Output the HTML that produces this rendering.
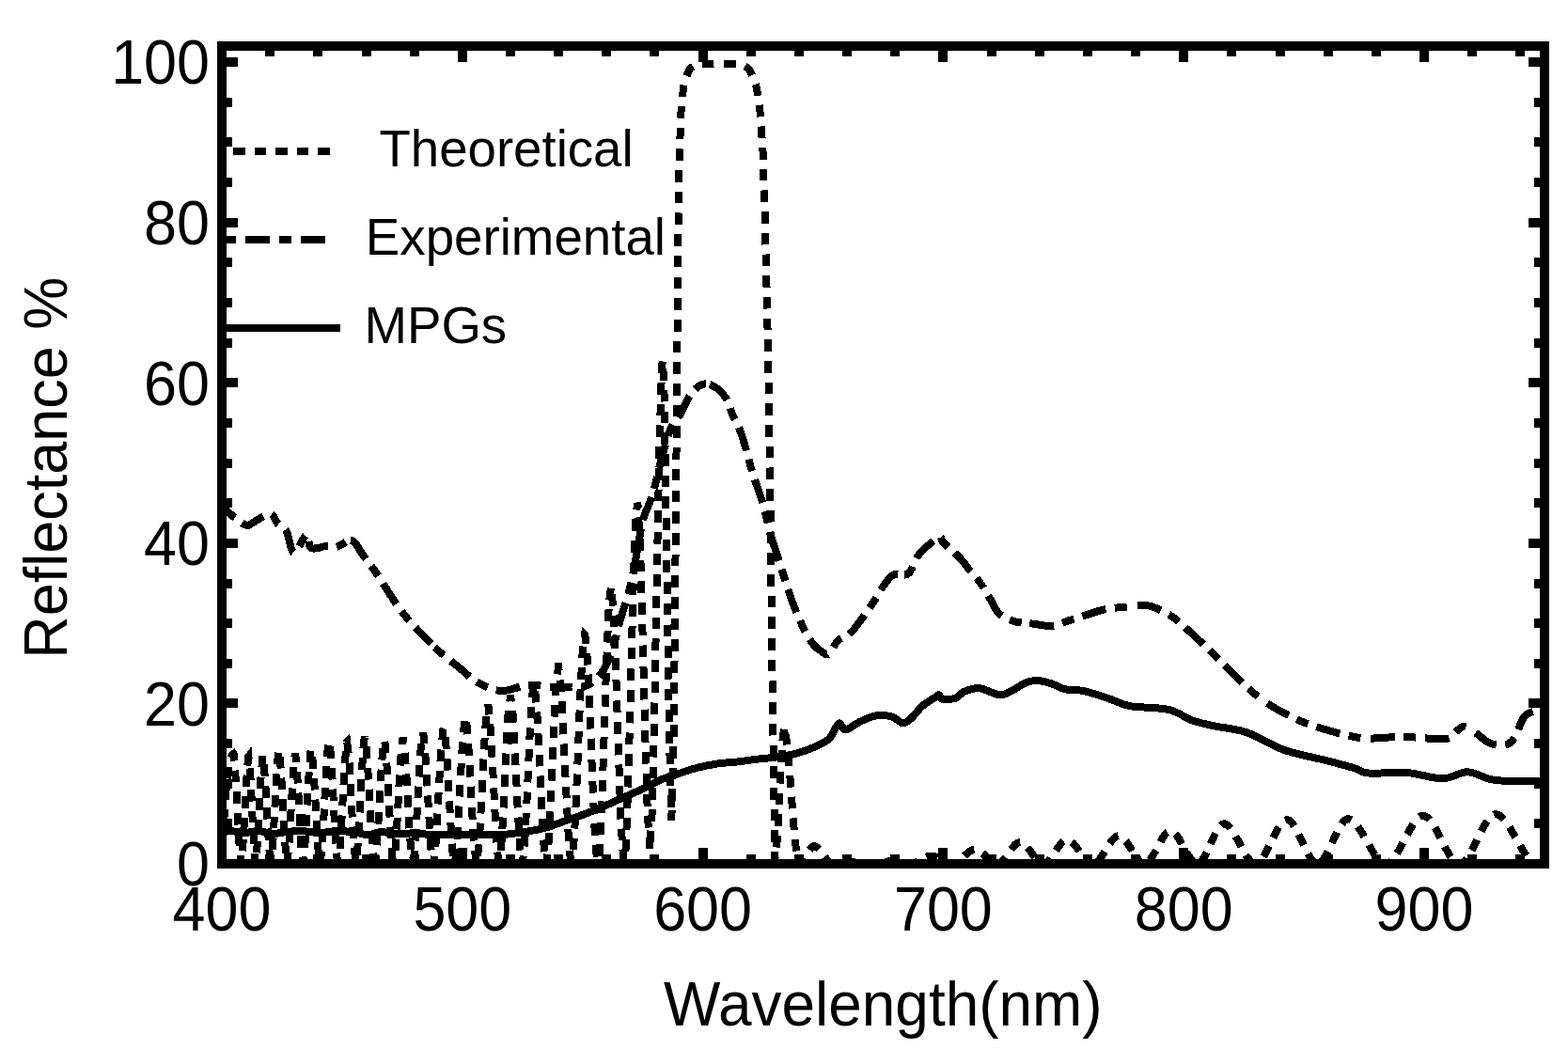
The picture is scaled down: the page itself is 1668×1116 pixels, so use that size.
<!DOCTYPE html>
<html><head><meta charset="utf-8"><title>Reflectance</title>
<style>html,body{margin:0;padding:0;background:#fff;}svg{display:block;}</style></head>
<body>
<svg shape-rendering="crispEdges" width="1668" height="1116" viewBox="0 0 1668 1116" font-family="'Liberation Sans', Arial, sans-serif">
<rect x="0" y="0" width="1668" height="1116" fill="#fff"/>
<defs><clipPath id="pc"><rect x="236" y="49" width="1407" height="870"/></clipPath></defs>
<g clip-path="url(#pc)" fill="none" stroke="#000" stroke-width="8" stroke-linejoin="round">
<path stroke-width="8" d="M232.0,884.0 C234.2,884.0 240.3,883.7 245.0,884.0 C249.7,884.3 255.0,886.0 260.0,886.0 C265.0,886.0 270.0,883.8 275.0,884.0 C280.0,884.2 285.0,886.8 290.0,887.0 C295.0,887.2 300.0,885.5 305.0,885.0 C310.0,884.5 314.2,883.8 320.0,884.0 C325.8,884.2 333.3,886.0 340.0,886.0 C346.7,886.0 353.3,884.0 360.0,884.0 C366.7,884.0 374.7,885.2 380.0,886.0 C385.3,886.8 387.8,888.7 392.0,888.5 C396.2,888.3 400.3,885.2 405.0,885.0 C409.7,884.8 414.2,886.8 420.0,887.0 C425.8,887.2 433.3,886.3 440.0,886.5 C446.7,886.7 451.7,887.8 460.0,888.0 C468.3,888.2 481.3,887.5 490.0,887.5 C498.7,887.5 504.5,887.9 512.0,888.0 C519.5,888.1 527.0,888.5 535.0,888.0 C543.0,887.5 552.4,885.9 560.0,884.7 C567.6,883.5 573.6,882.5 580.4,880.6 C587.2,878.7 594.0,875.9 600.8,873.5 C607.6,871.1 614.4,868.9 621.2,866.4 C628.0,863.9 634.7,861.1 641.5,858.2 C648.3,855.3 655.1,852.0 661.9,849.0 C668.7,846.0 675.5,843.1 682.3,839.9 C689.1,836.7 695.9,832.6 702.7,829.7 C709.5,826.8 716.2,824.8 723.0,822.6 C729.8,820.4 736.6,818.1 743.4,816.4 C750.2,814.7 757.0,813.4 763.8,812.4 C770.6,811.4 777.4,811.3 784.2,810.5 C791.0,809.7 797.8,808.6 804.6,807.8 C811.4,807.0 818.2,806.5 825.0,805.6 C831.8,804.7 838.6,803.9 845.4,802.1 C852.2,800.3 859.6,797.7 865.7,795.0 C871.8,792.3 877.6,790.2 882.0,786.0 C886.4,781.8 889.3,771.2 892.2,769.6 C895.1,768.0 895.9,776.8 899.6,776.5 C903.3,776.2 909.2,770.4 914.6,767.9 C920.0,765.4 926.1,762.3 931.8,761.4 C937.5,760.5 944.1,761.2 948.9,762.5 C953.7,763.8 957.1,769.2 960.6,769.4 C964.1,769.6 966.4,766.7 969.9,763.6 C973.4,760.5 977.2,754.5 981.5,750.8 C985.8,747.1 992.6,743.4 995.5,741.5 C998.4,739.6 997.8,738.8 999.0,739.2 C1000.2,739.6 999.6,743.2 1002.5,743.8 C1005.4,744.4 1012.6,744.1 1016.5,742.7 C1020.4,741.4 1021.5,737.5 1025.8,735.7 C1030.1,734.0 1035.9,731.6 1042.1,732.2 C1048.3,732.8 1057.3,738.8 1063.1,739.2 C1068.9,739.6 1072.3,736.6 1077.0,734.5 C1081.7,732.4 1086.5,728.1 1091.0,726.4 C1095.5,724.6 1099.1,723.8 1103.8,724.0 C1108.5,724.2 1114.2,726.0 1119.0,727.5 C1123.8,729.0 1127.9,732.1 1132.9,733.3 C1137.9,734.5 1143.4,733.5 1149.2,734.5 C1155.0,735.5 1162.1,737.5 1167.9,739.2 C1173.7,741.0 1178.3,743.0 1184.2,745.0 C1190.1,747.0 1193.5,749.8 1203.3,751.4 C1213.1,753.0 1232.0,752.4 1242.9,754.9 C1253.8,757.4 1260.3,763.6 1268.5,766.5 C1276.7,769.4 1282.1,770.2 1291.8,772.4 C1301.5,774.5 1314.4,775.1 1326.8,779.4 C1339.2,783.7 1351.9,793.0 1366.3,798.0 C1380.7,803.0 1400.6,806.4 1412.9,809.6 C1425.2,812.8 1432.8,814.8 1440.0,817.0 C1447.2,819.2 1447.0,821.8 1456.4,822.6 C1465.9,823.4 1483.7,821.0 1496.7,822.0 C1509.7,823.0 1523.7,828.4 1534.4,828.3 C1545.1,828.2 1552.5,821.2 1560.9,821.3 C1569.3,821.4 1577.7,827.3 1584.8,828.9 C1591.9,830.5 1593.2,830.5 1603.7,830.8 C1614.2,831.1 1640.6,830.8 1648.0,830.8"/>
<polyline stroke-dasharray="26 9.5 13 9.5" stroke-dashoffset="27.56" points="232.0,540.5 232.7,540.7 233.7,541.0 234.9,541.3 236.2,541.7 237.6,542.1 239.0,542.6 240.3,543.1 241.4,543.7 242.4,544.3 243.3,545.0 244.1,545.8 244.9,546.6 245.8,547.4 246.7,548.3 247.7,549.2 248.9,550.1 250.3,551.1 251.9,552.3 253.6,553.6 255.4,554.9 257.2,556.2 258.9,557.3 260.5,558.1 261.8,558.7 262.9,559.0 263.8,559.0 264.5,558.9 265.2,558.6 265.8,558.2 266.5,557.7 267.3,557.1 268.3,556.6 269.4,556.0 270.7,555.2 272.0,554.3 273.4,553.4 274.9,552.5 276.3,551.6 277.7,550.8 279.0,550.1 280.3,549.5 281.6,548.8 282.9,548.1 284.1,547.5 285.3,547.0 286.5,546.7 287.7,546.7 288.7,546.9 289.6,547.5 290.5,548.4 291.2,549.6 291.9,551.0 292.6,552.5 293.3,554.0 294.2,555.4 295.1,556.6 296.2,557.6 297.3,558.5 298.6,559.3 299.9,560.1 301.2,561.0 302.4,562.1 303.7,563.5 304.8,565.2 305.8,567.7 306.7,570.9 307.6,574.5 308.4,578.3 309.3,581.9 310.2,584.9 311.3,587.1 312.5,588.0 314.0,587.4 315.7,585.4 317.5,582.5 319.4,579.0 321.3,575.5 323.1,572.4 324.7,570.1 326.0,569.0 327.0,569.3 327.6,570.6 328.0,572.5 328.3,574.9 328.7,577.5 329.1,579.9 329.9,581.8 331.0,583.0 332.6,583.5 334.5,583.5 336.7,583.3 339.0,582.8 341.4,582.2 343.6,581.6 345.7,581.2 347.5,581.0 349.0,581.0 350.3,581.2 351.5,581.5 352.5,581.8 353.5,582.1 354.4,582.3 355.4,582.4 356.4,582.4 357.4,582.2 358.4,581.9 359.3,581.5 360.3,581.0 361.2,580.5 362.1,580.0 363.1,579.5 364.0,579.0 364.9,578.5 365.9,577.9 366.9,577.2 367.8,576.6"/>
<polyline stroke-dasharray="26 9.5 13 9.5" stroke-dashoffset="52.41" points="367.8,576.6 368.8,576.0 369.7,575.5 370.6,575.2 371.5,575.0 372.3,575.0 373.1,575.0 373.9,575.2 374.7,575.4 375.5,575.8 376.3,576.4 377.1,577.1 378.0,578.0 378.9,579.1 379.9,580.4 380.8,582.0 381.9,583.6 382.9,585.4 384.0,587.2 385.2,589.1 386.5,591.0 387.9,592.9 389.4,594.9 390.9,596.9 392.5,598.9 394.2,601.1 395.9,603.4 397.7,605.7 399.4,608.2 401.2,610.9 403.0,613.7 404.9,616.7 406.8,619.7 408.7,622.8 410.7,625.9 412.6,628.9 414.5,631.8 416.4,634.6 418.2,637.4 420.0,640.1 421.9,642.8 423.7,645.5 425.6,648.1 427.5,650.7 429.5,653.3 431.5,655.8 433.6,658.3 435.7,660.7 437.9,663.1 440.1,665.5 442.3,667.9 444.5,670.3 446.8,672.7 449.1,675.1 451.4,677.5 453.7,679.9 456.1,682.4 458.5,684.8"/>
<polyline stroke-dasharray="26 9.5 13 9.5" stroke-dashoffset="30.07" points="458.5,684.8 460.9,687.2 463.5,689.6 466.1,692.0 468.9,694.5 471.8,697.0 474.9,699.5 478.0,702.0 481.1,704.5 484.2,706.9 487.1,709.2 489.8,711.4 492.3,713.5 494.6,715.5 496.7,717.5 498.8,719.3 500.9,721.1 503.1,722.9 505.4,724.5 508.0,726.0 510.8,727.5 513.6,729.0 516.7,730.4 519.8,731.8 522.9,733.0 526.2,733.9 529.5,734.6 532.8,735.0 536.2,734.9 539.7,734.4 543.3,733.5 546.9,732.5 550.5,731.3 554.2,730.3 557.8,729.5 561.3,729.0 564.7,728.9 568.1,728.9 571.4,729.1 574.8,729.5 578.1,729.8 581.5,730.2 584.9,730.5 588.5,730.7 592.3,730.9 596.2,731.1 600.4,731.3 604.5,731.4"/>
<polyline stroke-dasharray="26 9.5 13 9.5" stroke-dashoffset="21.85" points="604.5,731.4 608.5,731.5 612.4,731.5 616.0,731.2 619.2,730.7 622.0,730.0 624.5,729.2 626.7,728.2 628.8,727.1 630.7,725.8 632.5,724.2 634.3,722.5 636.2,720.5 638.1,718.3 639.9,715.8 641.7,713.2 643.4,710.3 645.1,707.2 646.7,703.9 648.3,700.4 649.8,696.7 651.2,692.6 652.6,688.2 653.9,683.5 655.1,678.6 656.3,673.6 657.5,668.7 658.7,663.8 660.0,659.2 661.3,654.8 662.6,650.4 664.0,646.2 665.3,641.9 666.6,637.7 667.9,633.5 669.1,629.3 670.2,625.1 671.2,620.9 672.1,616.6 673.0,612.5 673.8,608.2 674.6,604.0 675.4,599.8 676.2,595.4 677.0,591.0 677.8,586.4 678.6,581.7 679.4,576.8 680.2,571.9 681.1,567.1 681.9,562.4 682.9,557.9 683.9,553.7 685.0,549.9 686.2,546.5 687.4,543.3 688.7,540.3 690.1,537.2 691.4,533.9 692.7,530.4 694.0,526.4 695.3,521.9 696.6,516.9 697.9,511.6 699.2,506.2 700.5,500.7 701.8,495.4 703.0,490.3 704.3,485.6 705.5,481.2 706.8,476.9 708.0,472.7 709.2,468.7 710.4,464.9 711.6,461.3 712.8,458.0 714.0,455.0 715.3,452.4 716.6,450.2 717.9,448.3 719.2,446.6 720.5,445.0 721.8,443.5 723.0,441.8 724.2,440.0 725.3,438.0 726.3,435.9 727.3,433.7 728.3,431.5 729.2,429.4 730.2,427.3 731.2,425.3 732.3,423.5 733.4,421.8 734.6,420.1 735.8,418.5 737.0,416.9 738.2,415.5 739.4,414.2 740.7,413.0 741.9,412.0 743.1,411.1 744.3,410.3 745.5,409.7 746.8,409.2 748.0,408.8 749.3,408.5 750.6,408.4 752.0,408.5 753.5,408.8 755.0,409.2"/>
<polyline stroke-dasharray="26 9.5 13 9.5" stroke-dashoffset="0.91" points="755.0,409.2 756.6,409.8 758.3,410.5 759.9,411.4 761.5,412.3 763.1,413.4 764.5,414.5 765.9,415.7 767.2,417.1 768.5,418.6 769.8,420.2 771.0,421.9 772.2,423.6 773.2,425.3 774.2,427.0 775.0,428.7 775.7,430.5 776.3,432.3 776.9,434.1 777.4,436.0 777.9,437.8 778.5,439.6 779.2,441.3 779.9,442.9 780.7,444.5 781.5,445.9 782.4,447.4 783.2,448.9 784.1,450.5 784.9,452.3 785.8,454.3 786.7,456.5 787.5,458.9 788.4,461.4 789.3,464.1 790.2,466.8 791.1,469.6 791.9,472.4 792.8,475.3 793.6,478.1 794.4,480.9 795.1,483.8 795.9,486.7 796.7,489.7 797.5,492.9 798.5,496.3 799.6,500.0 800.9,504.0 802.3,508.3 803.8,512.8 805.4,517.4 807.1,522.1 808.6,526.9 810.1,531.5 811.5,536.0 812.7,540.5 813.9,545.0 815.1,549.6 816.1,554.2 817.2,558.6 818.2,562.7 819.1,566.6 820.0,570.0 820.8,572.9 821.6,575.3 822.2,577.3 822.9,579.2 823.5,580.9 824.2,582.7 824.9,584.8"/>
<polyline stroke-dasharray="26 9.5 13 9.5" stroke-dashoffset="13.64" points="824.9,584.8 825.7,587.2 826.6,589.9 827.5,592.9 828.4,595.9 829.4,599.1 830.4,602.3 831.5,605.6 832.5,609.0 833.6,612.3 834.7,615.7 835.8,619.1 836.9,622.6 838.0,626.2 839.2,629.7 840.4,633.3 841.6,636.8 842.9,640.3 844.2,643.8 845.7,647.4 847.1,651.0 848.6,654.6 850.1,658.1 851.6,661.4 853.0,664.6 854.4,667.5 855.7,670.2 857.0,672.7 858.3,675.1 859.5,677.3 860.7,679.3 861.9,681.2 863.2,683.0 864.4,684.7 865.7,686.2 867.0,687.6 868.3,688.8 869.6,689.9 870.9,690.9 872.2,691.8 873.4,692.6 874.5,693.3 875.5,694.0 876.4,694.7 877.3,695.3 878.0,695.8 878.8,696.2 879.7,696.3 880.6,696.1 881.6,695.5 882.7,694.4 883.9,692.9 885.1,691.0 886.4,688.8 887.7,686.6 889.0,684.5 890.4,682.6 891.7,681.1 893.1,680.0 894.5,679.1 896.0,678.3 897.5,677.7 898.9,677.1 900.4,676.5 901.8,675.7 903.2,674.7 904.5,673.6 905.7,672.4 906.9,671.1 908.0,669.8 909.2,668.4 910.4,666.8 911.8,665.1 913.2,663.2 914.8,661.1 916.5,658.8 918.4,656.3 920.3,653.6 922.2,651.0 924.0,648.3 925.8,645.7 927.5,643.2 929.1,640.8 930.6,638.3 932.0,635.8 933.4,633.4 934.8,631.0 936.2,628.7 937.6,626.6 939.0,624.5 940.4,622.5 941.8,620.6 943.1,618.7 944.5,617.0 945.9,615.3 947.3,613.9 948.9,612.6 950.5,611.6 952.3,611.0 954.3,610.8 956.3,611.0 958.4,611.3"/>
<polyline stroke-dasharray="26 9.5 13 9.5" stroke-dashoffset="31.54" points="958.4,611.3 960.5,611.5 962.6,611.5 964.5,611.1 966.2,610.2 967.7,608.7 969.0,606.6 970.2,604.3 971.3,601.6 972.4,598.9 973.6,596.3 974.9,593.7 976.3,591.5 977.9,589.5 979.7,587.4 981.6,585.5 983.6,583.6 985.5,581.8 987.4,580.2 989.2,578.6 990.8,577.3 992.3,576.1 993.6,575.0 995.0,574.0 996.2,573.1 997.3,572.4 998.4,571.9 999.3,571.5 1000.2,571.4 1000.8,571.5 1001.2,571.8 1001.3,572.3 1001.4,573.0 1001.6,573.8 1002.0,574.8 1002.6,576.0 1003.7,577.3 1005.3,578.9 1007.3,580.8 1009.6,582.9 1012.0,585.1 1014.6,587.4 1017.0,589.6 1019.2,591.7 1021.1,593.6 1022.6,595.3 1023.9,596.8 1025.1,598.2 1026.1,599.5 1027.1,600.9 1028.1,602.2 1029.2,603.7 1030.4,605.2 1031.7,606.8 1033.2,608.4 1034.6,610.1 1036.1,611.8 1037.6,613.5 1039.1,615.3 1040.6,617.2 1042.1,619.2 1043.6,621.3 1045.1,623.6 1046.6,626.0 1048.0,628.4 1049.5,630.9 1051.0,633.3 1052.4,635.6 1053.7,637.8 1054.9,639.9 1056.0,642.0 1057.1,644.1 1058.1,646.1 1059.2,648.0 1060.3,649.8 1061.6,651.5 1063.1,653.0 1064.8,654.4 1066.6,655.7 1068.6,656.8 1070.7,657.9 1072.8,658.8 1075.0,659.6 1077.2,660.4 1079.4,661.1 1081.6,661.7 1083.8,662.1 1086.1,662.4 1088.4,662.7 1090.7,662.9"/>
<polyline stroke-dasharray="26 9.5 13 9.5" stroke-dashoffset="53.34" points="1090.7,662.9 1093.1,663.0 1095.5,663.2 1098.0,663.5 1100.5,663.8 1103.1,664.3 1105.8,664.7 1108.5,665.2 1111.2,665.5 1113.9,665.8 1116.5,665.9 1119.0,665.8 1121.4,665.5 1123.8,664.9 1126.2,664.2 1128.4,663.4 1130.7,662.5 1133.0,661.6 1135.3,660.8 1137.6,660.0 1139.9,659.3 1142.2,658.5 1144.6,657.8 1146.9,657.0 1149.2,656.3 1151.5,655.6 1153.9,654.8 1156.2,654.1 1158.5,653.3 1160.9,652.6 1163.2,651.8 1165.5,651.0 1167.9,650.2 1170.2,649.5 1172.6,648.9 1174.9,648.3 1177.2,647.8 1179.4,647.5 1181.6,647.2 1183.7,646.9 1186.0,646.7 1188.3,646.5 1190.8,646.2 1193.5,646.0 1196.5,645.7 1199.8,645.4 1203.3,645.0"/>
<polyline stroke-dasharray="26 9.5 13 9.5" stroke-dashoffset="51.39" points="1203.3,645.0 1206.8,644.7 1210.4,644.4 1213.8,644.3 1216.9,644.2 1219.6,644.3 1221.9,644.5 1223.9,644.9 1225.6,645.4 1227.2,645.9 1228.7,646.6 1230.2,647.3 1231.8,648.1 1233.6,648.9 1235.5,649.8 1237.4,650.7 1239.3,651.6 1241.3,652.7 1243.3,653.8 1245.4,655.1 1247.6,656.6 1249.9,658.2 1252.3,660.1 1254.8,662.2 1257.4,664.5 1260.1,666.9 1262.8,669.4 1265.5,671.9 1268.2,674.4 1270.8,676.9 1273.4,679.3 1276.0,681.7 1278.7,684.2 1281.3,686.7 1283.9,689.1 1286.5,691.6 1289.2,694.2 1291.8,696.7 1294.4,699.3 1297.1,701.9 1299.7,704.5 1302.3,707.2 1304.9,709.8 1307.6,712.4 1310.2,715.0 1312.8,717.6 1315.4,720.2 1318.0,722.7 1320.5,725.3 1323.1,727.8 1325.7,730.3 1328.3,732.7 1331.0,735.1 1333.7,737.4 1336.5,739.6 1339.2,741.8 1342.1,743.9 1344.9,745.9"/>
<polyline stroke-dasharray="26 9.5 13 9.5" stroke-dashoffset="53.86" points="1344.9,745.9 1347.8,747.9 1350.8,749.9 1353.8,751.8 1357.0,753.7 1360.3,755.6 1363.7,757.5 1367.2,759.3 1370.7,761.1 1374.3,762.9 1377.9,764.6 1381.5,766.2 1385.0,767.7 1388.5,769.1 1392.0,770.4 1395.5,771.6 1399.0,772.8 1402.4,773.9 1405.9,774.9 1409.4,776.0 1412.9,777.0 1416.5,778.0 1420.1,779.0 1423.8,780.0 1427.5,781.0 1431.1,781.9 1434.6,782.7 1437.9,783.4 1440.9,784.0 1443.6,784.5 1446.0,784.8 1448.1,785.1 1450.2,785.3 1452.2,785.4 1454.2,785.5"/>
<polyline stroke-dasharray="26 9.5 13 9.5" stroke-dashoffset="54.33" points="1454.2,785.5 1456.4,785.5 1458.9,785.5 1461.6,785.5 1464.6,785.3 1467.7,785.2 1470.9,784.9 1474.0,784.7 1477.1,784.5 1480.1,784.3 1482.8,784.2 1485.3,784.1 1487.6,784.1 1489.9,784.0 1492.0,784.0 1494.1,784.0 1496.1,784.1 1498.2,784.1 1500.4,784.2 1502.6,784.3 1504.7,784.5 1506.8,784.6 1508.9,784.8 1511.1,785.1 1513.3,785.2 1515.7,785.4 1518.1,785.5 1520.8,785.6 1523.7,785.8 1526.8,786.0 1529.9,786.1 1532.9,786.2 1535.8,786.1 1538.4,785.9 1540.7,785.5 1542.6,784.8 1544.2,783.8 1545.5,782.6 1546.7,781.3 1547.8,780.0 1548.8,778.8 1549.7,777.6 1550.8,776.7 1551.8,775.9 1552.7,775.1 1553.6,774.4 1554.4,773.8 1555.2,773.3 1556.1,772.9 1557.1,772.8 1558.3,772.9 1559.6,773.3 1561.1,774.0 1562.8,774.9 1564.4,775.9 1566.1,777.0"/>
<polyline stroke-dasharray="26 9.5 13 9.5" stroke-dashoffset="53.63" points="1566.1,777.0 1567.8,778.2 1569.4,779.4 1570.9,780.4 1572.3,781.4 1573.6,782.5 1574.9,783.6 1576.1,784.7 1577.3,785.8 1578.5,786.8 1579.8,787.8 1581.0,788.6 1582.2,789.3 1583.5,790.0 1584.7,790.5 1585.9,791.0 1587.1,791.5 1588.4,791.9 1589.7,792.2 1591.1,792.4 1592.6,792.6 1594.2,792.8 1595.8,792.9 1597.5,792.9 1599.1,792.8 1600.8,792.6 1602.3,792.3 1603.7,791.8 1605.0,791.1 1606.3,790.2 1607.5,789.2 1608.7,788.0 1609.7,786.8 1610.7,785.5 1611.7,784.2 1612.5,783.0 1613.2,781.8 1613.8,780.6 1614.2,779.3 1614.6,778.0 1615.0,776.7 1615.4,775.5 1615.8,774.2 1616.3,772.9 1616.9,771.6 1617.4,770.3 1618.0,768.9 1618.6,767.5 1619.2,766.2 1619.8,765.0 1620.5,763.8 1621.3,762.8 1622.1,761.9 1623.0,761.1 1623.9,760.4 1624.9,759.7 1625.9,759.2 1626.9,758.7 1627.8,758.2 1628.8,757.8 1629.7,757.5 1630.6,757.2 1631.5,757.1 1632.3,756.9 1633.3,756.8 1634.2,756.8 1635.3,756.6 1636.4,756.5 1637.7,756.3 1639.3,756.1 1641.0,755.9 1642.7,755.7 1644.3,755.5 1645.8,755.3 1647.1,755.1 1648.0,755.0"/>
<g stroke-linejoin="miter">
<polyline stroke-dasharray="12.6 10.1" stroke-dashoffset="0.00" points="236.0,919.0 238.6,867.4 241.1,833.4 243.7,813.4 246.2,804.2 248.5,802.1 248.8,802.6 251.3,836.4 253.9,890.8 256.5,919.0 259.0,890.9 261.6,837.6 264.1,805.1 264.4,804.7 266.7,830.0 269.3,885.7 271.8,918.9 274.4,891.1 276.9,834.8 279.5,803.8 279.5,803.8 282.0,828.1 284.6,877.3 287.2,915.2 289.7,907.8 292.3,861.1 294.8,812.5 296.7,797.9 297.4,800.1 299.9,836.3 302.5,888.4 305.1,918.6 307.6,899.0 310.2,850.3 312.7,808.9 314.0,802.1 315.3,809.5 317.9,852.5 320.4,901.3 323.0,917.9 325.5,883.6 328.1,830.2 330.6,797.6 331.0,797.0 333.2,813.7 335.8,858.2 338.3,902.7 340.9,918.4 343.4,889.3 346.0,838.5 348.6,796.7 350.0,788.5 351.1,793.3 353.7,831.1 356.2,882.0 358.8,916.3 361.3,907.7 363.9,864.3 366.5,815.0 369.0,789.5 369.2,789.3 371.6,810.0 374.1,859.0 376.7,905.1 379.2,917.2 381.8,882.7 384.4,829.1 386.9,789.1 388.0,784.2 389.5,791.6 392.0,829.4 394.6,878.1 397.2,913.7 399.7,913.3 402.3,878.0 404.8,830.5 407.4,794.3 408.8,787.6 409.9,792.5 412.5,829.0 415.1,878.8 417.6,914.6 420.2,911.0 422.7,870.4 425.3,819.9 427.9,787.3 428.6,785.1 430.4,795.5 433.0,834.9 435.5,882.4 438.1,915.2 440.6,911.5 443.2,873.3 445.8,823.7 448.3,786.5 449.7,780.0 450.9,784.2 453.4,816.2 456.0,862.7 458.5,903.6 461.1,918.8 463.7,896.1 466.2,850.9 468.8,804.0 471.3,776.3 472.0,774.8 473.9,785.3 476.5,822.9 479.0,870.2 481.6,908.2 484.1,917.7 486.7,889.7 489.2,841.1 491.8,792.4 494.4,764.3 495.0,762.9 496.9,773.6 499.5,811.8 502.0,860.9 504.6,902.6 507.1,918.9 509.7,897.1 512.3,850.0 514.8,797.3 517.4,758.5 519.0,750.1 519.9,753.0 522.5,784.8 525.1,835.7 527.6,886.2 530.2,916.7 532.7,908.9 535.3,866.8 537.8,810.7 540.4,761.4 543.0,739.9 543.0,739.9 545.5,758.7 548.1,804.5 550.6,858.7 553.2,902.9 555.8,918.8 558.3,894.3 560.9,843.3 563.4,785.4 566.0,740.5 568.0,727.1 568.5,728.0 571.1,754.6 573.7,804.5 576.2,860.1 578.8,904.0 581.3,918.6 583.9,892.5 586.4,839.4 589.0,778.3 591.6,728.5 594.0,709.2 594.1,709.2 596.7,729.3 599.2,775.3 601.8,831.9 604.4,883.7 606.9,915.4 609.5,911.5 612.0,870.1 614.6,807.9 617.1,742.8 619.7,692.6 622.0,675.0 622.3,675.3 624.8,700.7 627.4,755.3 629.9,821.2 632.5,880.7 635.0,915.8 637.6,908.2 640.2,856.2 642.7,780.2 645.3,701.9 647.8,642.8 650.0,623.9 650.4,624.6 653.0,657.7 655.5,725.1 658.1,805.0 660.6,875.9 663.2,916.1 665.7,902.6 668.3,832.5 670.9,732.8 673.4,631.6 676.0,556.9 678.0,535.2 678.5,536.8 681.1,584.3 683.6,674.8 686.2,778.2 688.8,864.4 691.3,903.5"/>
<polyline stroke-dasharray="12.6 10.1" stroke-dashoffset="15.43" points="691.3,903.5 693.9,860.8 696.4,745.6 699.0,600.4 701.6,467.6 704.1,389.7 705.0,383.3 706.7,423.5 709.2,588.4 711.8,776.7 714.3,873.4"/>
<polyline stroke-dasharray="12.6 10.1" stroke-dashoffset="1.23" points="714.3,873.4 716.9,772.1 719.5,484.1 722.0,184.1 724.6,116.8 727.1,92.4 729.7,82.8 732.3,76.3 734.8,72.1 737.4,70.5 739.9,69.2 742.5,68.4 745.0,68.0 747.6,67.9 750.2,67.8 752.7,67.7 755.3,67.6 757.8,67.6 760.4,67.5 762.9,67.5 765.5,67.5"/>
<polyline stroke-dasharray="12.6 10.1" stroke-dashoffset="17.96" points="765.5,67.5 768.1,67.5 770.6,67.5 773.2,67.6 775.7,67.6 778.3,67.7 780.9,67.8 783.4,67.9 786.0,68.1 788.5,68.7 791.1,69.7 793.6,71.1 796.2,73.1 798.8,77.3 801.3,82.7 803.9,90.0 806.4,101.6 809.0,123.1 811.5,160.6 814.1,242.5 816.7,356.9 819.2,511.3 821.8,742.3 824.3,914.1"/>
<polyline stroke-dasharray="12.6 10.1" stroke-dashoffset="10.01" points="824.3,914.1 826.9,892.6 829.5,840.7 832.0,791.4 834.0,775.7"/>
<polyline stroke-dasharray="12.6 10.1" stroke-dashoffset="18.08" points="834.0,775.7 834.6,776.2 837.1,790.0 839.7,817.2 842.2,850.7 844.8,883.5 847.4,908.6 849.9,919.0 852.5,917.8 855.0,914.6 857.6,910.3 860.2,905.9 862.7,902.3 865.3,900.3 866.0,900.2 867.8,900.7 870.4,902.5 872.9,905.4 875.5,908.9 878.1,912.5 880.6,915.7 883.2,918.0 885.7,919.0 888.3,918.9 890.8,918.7 893.4,918.5 896.0,918.2 898.5,917.8 901.1,917.6 903.6,917.4 906.0,917.3 906.2,917.3 908.8,917.4 911.3,917.6 913.9,917.9 916.4,918.2 919.0,918.5 921.5,918.8 924.1,919.0 926.7,919.0 929.2,918.8 931.8,918.5 934.3,918.0 936.9,917.5 939.4,917.1 942.0,916.7 944.6,916.5 946.0,916.4 947.1,916.5 949.7,916.6 952.2,916.9 954.8,917.3 957.4,917.8 959.9,918.2 962.5,918.6 965.0,918.9 967.6,919.0 970.1,918.8 972.7,918.0 975.3,916.8 977.8,915.4 980.4,913.9 982.9,912.5 985.5,911.4 988.1,910.7 990.0,910.5 990.6,910.5 993.2,910.9 995.7,911.7 998.3,912.9 1000.8,914.2 1003.4,915.6 1006.0,916.9 1008.5,918.0 1011.1,918.7 1013.6,919.0 1016.2,918.4 1018.7,917.0 1021.3,915.0 1023.9,912.7 1026.4,910.2 1029.0,907.8 1031.5,905.7 1034.1,904.3 1036.7,903.7 1037.0,903.6 1039.2,904.0 1041.8,905.2 1044.3,907.1 1046.9,909.3 1049.4,911.7 1052.0,914.1 1054.6,916.3 1057.1,917.9 1059.7,918.9 1062.2,918.8"/>
<polyline stroke-dasharray="12.6 10.1" stroke-dashoffset="2.30" points="1062.2,918.8 1064.8,917.5 1067.3,915.0 1069.9,911.8 1072.5,908.3 1075.0,904.6 1077.6,901.2 1080.1,898.4 1082.7,896.6 1085.0,896.0 1085.3,896.0 1087.8,896.8 1090.4,898.7 1092.9,901.5 1095.5,904.7 1098.0,908.2 1100.6,911.7 1103.2,914.8 1105.7,917.2 1108.3,918.7 1110.8,918.9"/>
<polyline stroke-dasharray="12.6 10.1" stroke-dashoffset="3.60" points="1110.8,918.9 1113.4,917.7 1116.0,915.3 1118.5,912.1 1121.1,908.4 1123.6,904.5 1126.2,900.7 1128.7,897.4 1131.3,894.9 1133.9,893.6 1135.0,893.4 1136.4,893.6 1139.0,894.9 1141.5,897.1 1144.1,899.9 1146.6,903.3 1149.2,906.8 1151.8,910.3 1154.3,913.6 1156.9,916.2 1159.4,918.1 1162.0,919.0"/>
<polyline stroke-dasharray="12.6 10.1" stroke-dashoffset="16.12" points="1162.0,919.0 1164.6,918.5 1167.1,916.8 1169.7,914.0 1172.2,910.4 1174.8,906.4 1177.3,902.3 1179.9,898.3 1182.5,894.6 1185.0,891.7 1187.6,889.8 1190.0,889.1 1190.1,889.1 1192.7,889.9 1195.2,892.0 1197.8,895.0 1200.4,898.7 1202.9,902.7 1205.5,906.9 1208.0,910.8 1210.6,914.3 1213.2,917.0 1215.7,918.6 1218.3,918.9"/>
<polyline stroke-dasharray="12.6 10.1" stroke-dashoffset="16.62" points="1218.3,918.9 1220.8,917.6 1223.4,914.9 1225.9,911.1 1228.5,906.7 1231.1,901.9 1233.6,897.0 1236.2,892.5 1238.7,888.6 1241.3,885.8 1243.9,884.2 1245.0,884.0 1246.4,884.3 1249.0,885.9 1251.5,888.7 1254.1,892.4 1256.6,896.8 1259.2,901.4 1261.8,906.1 1264.3,910.4 1266.9,914.2 1269.4,917.1 1272.0,918.7 1274.5,918.8"/>
<polyline stroke-dasharray="12.6 10.1" stroke-dashoffset="20.14" points="1274.5,918.8 1277.1,917.1 1279.7,913.9 1282.2,909.5 1284.8,904.2 1287.3,898.6 1289.9,892.9 1292.5,887.5 1295.0,882.8 1297.6,879.1 1300.1,876.9 1302.0,876.4 1302.7,876.4 1305.2,877.5 1307.8,879.7 1310.4,883.0 1312.9,887.0 1315.5,891.5 1318.0,896.3 1320.6,901.2 1323.1,905.9 1325.7,910.2 1328.3,913.9 1330.8,916.7 1333.4,918.5 1335.9,919.0"/>
<polyline stroke-dasharray="12.6 10.1" stroke-dashoffset="11.16" points="1335.9,919.0 1338.5,917.9 1341.1,915.6 1343.6,912.1 1346.2,907.7 1348.7,902.8 1351.3,897.6 1353.8,892.2 1356.4,887.0 1359.0,882.2 1361.5,878.1 1364.1,874.8 1366.6,872.8 1369.0,872.1 1369.2,872.1 1371.8,873.0 1374.3,875.4 1376.9,879.0 1379.4,883.5 1382.0,888.6 1384.5,894.0 1387.1,899.5 1389.7,904.9 1392.2,909.7 1394.8,913.8 1397.3,916.9 1399.9,918.7 1402.4,918.9"/>
<polyline stroke-dasharray="12.6 10.1" stroke-dashoffset="18.43" points="1402.4,918.9 1405.0,917.5 1407.6,914.6 1410.1,910.7 1412.7,905.9 1415.2,900.6 1417.8,895.0 1420.4,889.4 1422.9,884.1 1425.5,879.4 1428.0,875.5 1430.6,872.7 1433.1,871.3 1434.0,871.2 1435.7,871.5 1438.3,872.7 1440.8,874.9 1443.4,877.9 1445.9,881.5 1448.5,885.5 1451.0,889.9 1453.6,894.4 1456.2,899.0 1458.7,903.4 1461.3,907.6 1463.8,911.3 1466.4,914.5 1469.0,916.9 1471.5,918.5 1474.1,919.0"/>
<polyline stroke-dasharray="12.6 10.1" stroke-dashoffset="5.60" points="1474.1,919.0 1476.6,918.4 1479.2,916.6 1481.7,914.0 1484.3,910.6 1486.9,906.5 1489.4,902.0 1492.0,897.3 1494.5,892.4 1497.1,887.5 1499.7,882.9 1502.2,878.5 1504.8,874.7 1507.3,871.6 1509.9,869.3 1512.4,868.0 1514.0,867.8 1515.0,867.9 1517.6,869.1 1520.1,871.3 1522.7,874.4 1525.2,878.3 1527.8,882.8 1530.3,887.7 1532.9,892.7 1535.5,897.8 1538.0,902.7 1540.6,907.3 1543.1,911.4 1545.7,914.8 1548.3,917.3 1550.8,918.7 1553.4,918.9"/>
<polyline stroke-dasharray="12.6 10.1" stroke-dashoffset="3.51" points="1553.4,918.9 1555.9,917.8 1558.5,915.6 1561.0,912.3 1563.6,908.3 1566.2,903.8 1568.7,898.8 1571.3,893.5 1573.8,888.3 1576.4,883.2 1578.9,878.4 1581.5,874.2 1584.1,870.6 1586.6,868.0 1589.2,866.5 1591.0,866.1 1591.7,866.2 1594.3,867.0 1596.9,868.7 1599.4,871.2 1602.0,874.3 1604.5,878.0 1607.1,882.2 1609.6,886.6 1612.2,891.1 1614.8,895.7 1617.3,900.2 1619.9,904.6 1622.4,908.5 1625.0,912.0 1627.6,915.0 1630.1,917.2 1632.7,918.6 1635.2,919.0 1637.8,918.8 1640.3,918.1 1642.9,917.0"/>
</g>
</g>
<g fill="#000">
<rect x="282.2" y="54" width="10" height="6"/>
<rect x="282.2" y="909" width="10" height="5"/>
<rect x="333.3" y="54" width="10" height="6"/>
<rect x="333.3" y="909" width="10" height="5"/>
<rect x="384.5" y="54" width="10" height="6"/>
<rect x="384.5" y="909" width="10" height="5"/>
<rect x="435.6" y="54" width="10" height="6"/>
<rect x="435.6" y="909" width="10" height="5"/>
<rect x="486.8" y="54" width="10" height="12"/>
<rect x="486.8" y="902" width="10" height="12"/>
<rect x="538.0" y="54" width="10" height="6"/>
<rect x="538.0" y="909" width="10" height="5"/>
<rect x="589.1" y="54" width="10" height="6"/>
<rect x="589.1" y="909" width="10" height="5"/>
<rect x="640.3" y="54" width="10" height="6"/>
<rect x="640.3" y="909" width="10" height="5"/>
<rect x="691.4" y="54" width="10" height="6"/>
<rect x="691.4" y="909" width="10" height="5"/>
<rect x="742.6" y="54" width="10" height="12"/>
<rect x="742.6" y="902" width="10" height="12"/>
<rect x="793.8" y="54" width="10" height="6"/>
<rect x="793.8" y="909" width="10" height="5"/>
<rect x="844.9" y="54" width="10" height="6"/>
<rect x="844.9" y="909" width="10" height="5"/>
<rect x="896.1" y="54" width="10" height="6"/>
<rect x="896.1" y="909" width="10" height="5"/>
<rect x="947.2" y="54" width="10" height="6"/>
<rect x="947.2" y="909" width="10" height="5"/>
<rect x="998.4" y="54" width="10" height="12"/>
<rect x="998.4" y="902" width="10" height="12"/>
<rect x="1049.6" y="54" width="10" height="6"/>
<rect x="1049.6" y="909" width="10" height="5"/>
<rect x="1100.7" y="54" width="10" height="6"/>
<rect x="1100.7" y="909" width="10" height="5"/>
<rect x="1151.9" y="54" width="10" height="6"/>
<rect x="1151.9" y="909" width="10" height="5"/>
<rect x="1203.0" y="54" width="10" height="6"/>
<rect x="1203.0" y="909" width="10" height="5"/>
<rect x="1254.2" y="54" width="10" height="12"/>
<rect x="1254.2" y="902" width="10" height="12"/>
<rect x="1305.4" y="54" width="10" height="6"/>
<rect x="1305.4" y="909" width="10" height="5"/>
<rect x="1356.5" y="54" width="10" height="6"/>
<rect x="1356.5" y="909" width="10" height="5"/>
<rect x="1407.7" y="54" width="10" height="6"/>
<rect x="1407.7" y="909" width="10" height="5"/>
<rect x="1458.8" y="54" width="10" height="6"/>
<rect x="1458.8" y="909" width="10" height="5"/>
<rect x="1510.0" y="54" width="10" height="12"/>
<rect x="1510.0" y="902" width="10" height="12"/>
<rect x="1561.2" y="54" width="10" height="6"/>
<rect x="1561.2" y="909" width="10" height="5"/>
<rect x="1612.3" y="54" width="10" height="6"/>
<rect x="1612.3" y="909" width="10" height="5"/>
<rect x="241" y="871.4" width="6" height="10"/>
<rect x="1632" y="871.4" width="6" height="10"/>
<rect x="241" y="828.7" width="6" height="10"/>
<rect x="1632" y="828.7" width="6" height="10"/>
<rect x="241" y="786.0" width="6" height="10"/>
<rect x="1632" y="786.0" width="6" height="10"/>
<rect x="241" y="743.4" width="12" height="10"/>
<rect x="1626" y="743.4" width="12" height="10"/>
<rect x="241" y="700.8" width="6" height="10"/>
<rect x="1632" y="700.8" width="6" height="10"/>
<rect x="241" y="658.1" width="6" height="10"/>
<rect x="1632" y="658.1" width="6" height="10"/>
<rect x="241" y="615.5" width="6" height="10"/>
<rect x="1632" y="615.5" width="6" height="10"/>
<rect x="241" y="572.8" width="12" height="10"/>
<rect x="1626" y="572.8" width="12" height="10"/>
<rect x="241" y="530.2" width="6" height="10"/>
<rect x="1632" y="530.2" width="6" height="10"/>
<rect x="241" y="487.5" width="6" height="10"/>
<rect x="1632" y="487.5" width="6" height="10"/>
<rect x="241" y="444.9" width="6" height="10"/>
<rect x="1632" y="444.9" width="6" height="10"/>
<rect x="241" y="402.2" width="12" height="10"/>
<rect x="1626" y="402.2" width="12" height="10"/>
<rect x="241" y="359.6" width="6" height="10"/>
<rect x="1632" y="359.6" width="6" height="10"/>
<rect x="241" y="316.9" width="6" height="10"/>
<rect x="1632" y="316.9" width="6" height="10"/>
<rect x="241" y="274.2" width="6" height="10"/>
<rect x="1632" y="274.2" width="6" height="10"/>
<rect x="241" y="231.6" width="12" height="10"/>
<rect x="1626" y="231.6" width="12" height="10"/>
<rect x="241" y="189.0" width="6" height="10"/>
<rect x="1632" y="189.0" width="6" height="10"/>
<rect x="241" y="146.3" width="6" height="10"/>
<rect x="1632" y="146.3" width="6" height="10"/>
<rect x="241" y="103.7" width="6" height="10"/>
<rect x="1632" y="103.7" width="6" height="10"/>
<rect x="241" y="61.0" width="12" height="10"/>
<rect x="1626" y="61.0" width="12" height="10"/>
</g>
<rect x="236" y="49" width="1407" height="870" fill="none" stroke="#000" stroke-width="10"/>
<g font-size="66" fill="#000">
<text x="223" y="942.5" text-anchor="end" transform="translate(223 0) scale(0.952 1) translate(-223 0)">0</text>
<text x="223" y="771.9" text-anchor="end" transform="translate(223 0) scale(0.952 1) translate(-223 0)">20</text>
<text x="223" y="601.3" text-anchor="end" transform="translate(223 0) scale(0.952 1) translate(-223 0)">40</text>
<text x="223" y="430.7" text-anchor="end" transform="translate(223 0) scale(0.952 1) translate(-223 0)">60</text>
<text x="223" y="260.1" text-anchor="end" transform="translate(223 0) scale(0.952 1) translate(-223 0)">80</text>
<text x="223" y="89.5" text-anchor="end" transform="translate(223 0) scale(0.952 1) translate(-223 0)">100</text>
<text x="0" y="0" text-anchor="middle" transform="translate(236.0 990) scale(0.952 1)">400</text>
<text x="0" y="0" text-anchor="middle" transform="translate(491.8 990) scale(0.952 1)">500</text>
<text x="0" y="0" text-anchor="middle" transform="translate(747.6 990) scale(0.952 1)">600</text>
<text x="0" y="0" text-anchor="middle" transform="translate(1003.4 990) scale(0.952 1)">700</text>
<text x="0" y="0" text-anchor="middle" transform="translate(1259.2 990) scale(0.952 1)">800</text>
<text x="0" y="0" text-anchor="middle" transform="translate(1515.0 990) scale(0.952 1)">900</text>
</g>
<text font-size="66" transform="translate(706 1091) scale(0.9687 1)">Wavelength(nm)</text>
<text font-size="64.5" transform="translate(71 700.8) rotate(-90) scale(0.9766 1)">Reflectance %</text>
<g stroke="#000" stroke-width="8" fill="none">
<line x1="248" y1="161" x2="352" y2="161" stroke-dasharray="12.5 10"/>
<line x1="238" y1="255" x2="346" y2="255" stroke-dasharray="13 10 26 9.5"/>
<line x1="241" y1="348.5" x2="362" y2="348.5" stroke-width="8"/>
</g>
<g font-size="56" fill="#000">
<text transform="translate(403.5 177.1) scale(0.975 1)">Theoretical</text>
<text transform="translate(388.8 271.2) scale(0.977 1)">Experimental</text>
<text transform="translate(387.5 365) scale(0.975 1)">MPGs</text>
</g>
</svg>
</body></html>
